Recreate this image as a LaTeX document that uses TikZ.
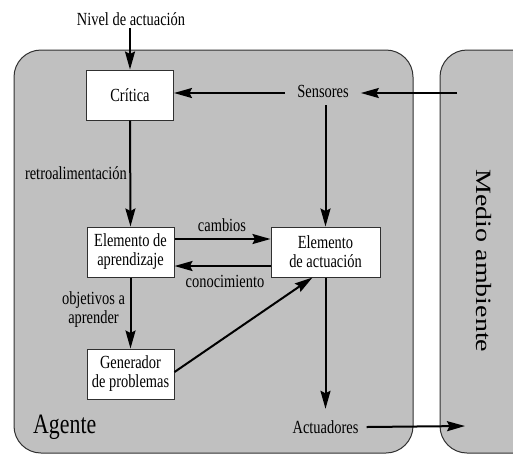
\documentclass[tikz,border=0pt]{standalone}
\usepackage{fontspec}
\setmainfont{Liberation Serif}[FakeStretch=0.78]
\newfontfamily\rotfont{Liberation Serif}
\usepackage{graphicx}
\usetikzlibrary{arrows.meta}
\definecolor{panel}{HTML}{C0C0C0}
\definecolor{edge}{HTML}{303030}
\begin{document}
\begin{tikzpicture}[x=1pt,y=-1pt,
  lbl/.style={font=\fontsize{18.5}{19}\selectfont, inner sep=0pt, align=center},
  blk/.style={draw=edge, fill=white, line width=1pt, minimum width=87pt, minimum height=50pt, inner sep=0pt, align=center, font=\fontsize{18.5}{19}\selectfont},
  arr/.style={line width=2pt, -{Stealth[length=18pt,width=10pt,inset=2.5pt]}},
  region/.style={draw=edge, fill=panel, line width=1pt, rounded corners=27pt}]
\useasboundingbox (0,0) rectangle (513,456);
\begin{scope}
\clip (0,0) rectangle (513,456);
\path[region] (14,50) rectangle (413,453);
\path[region] (440,50) rectangle (570,453);
\end{scope}
% blocks
\node[blk] (crit) at (130,95) {Crítica};
\node[blk] (apr) at (130.5,252) {Elemento de\\aprendizaje};
\node[blk, minimum width=109pt] (act) at (325.5,252) {Elemento\\de actuación};
\node[blk] (gen) at (130.5,374) {Generador\\de problemas};
% plain texts
\node[lbl, minimum height=18pt] (nivel) at (131,19) {Nivel de actuación};
\node[lbl, inner xsep=12pt, minimum height=28pt] (sens) at (323,91) {Sensores};
\node[lbl, inner xsep=8pt, minimum height=36pt] (actu) at (325.5,427) {Actuadores};
\node[lbl, anchor=east] (retro) at (127,173) {retroalimentación};
\node[lbl] (camb) at (222,225) {cambios};
\node[lbl] (conoc) at (225,281) {conocimiento};
\node[lbl] (obj) at (93.5,310) {objetivos a\\aprender};
\node[font=\fontsize{28}{30}\selectfont, anchor=base west, inner sep=0pt] (agente) at (33,433) {Agente};
\node[rotate=-90, inner sep=0pt, font=\rotfont\fontsize{28}{30}\selectfont] (medio) at (484,261) {\scalebox{1}[0.78]{Medio ambiente}};
% helper coordinates
\coordinate (envin) at (457,93);
\coordinate (envout) at (465,426);
\coordinate (c1) at (0,239);
\coordinate (c2) at (0,266);
% connectors
\draw[arr] (crit.north |- nivel.south) -- (crit.north);
\draw[arr] (envin) -- (envin -| sens.east);
\draw[arr] (sens.west |- envin) -- (crit.east |- envin);
\draw[arr] (act.north |- sens.south) -- (act.north);
\draw[arr] (crit.south) -- (apr.north);
\draw[arr] (apr.east |- c1) -- (act.west |- c1);
\draw[arr] (act.west |- c2) -- (apr.east |- c2);
\draw[arr] (apr.south) -- (gen.north);
\draw[arr] ([yshift=2pt]gen.east) -- ([xshift=42pt]act.south west);
\draw[arr] (act.south) -- (actu.north);
\draw[arr] (actu.east) -- (envout);
\end{tikzpicture}
\end{document}
